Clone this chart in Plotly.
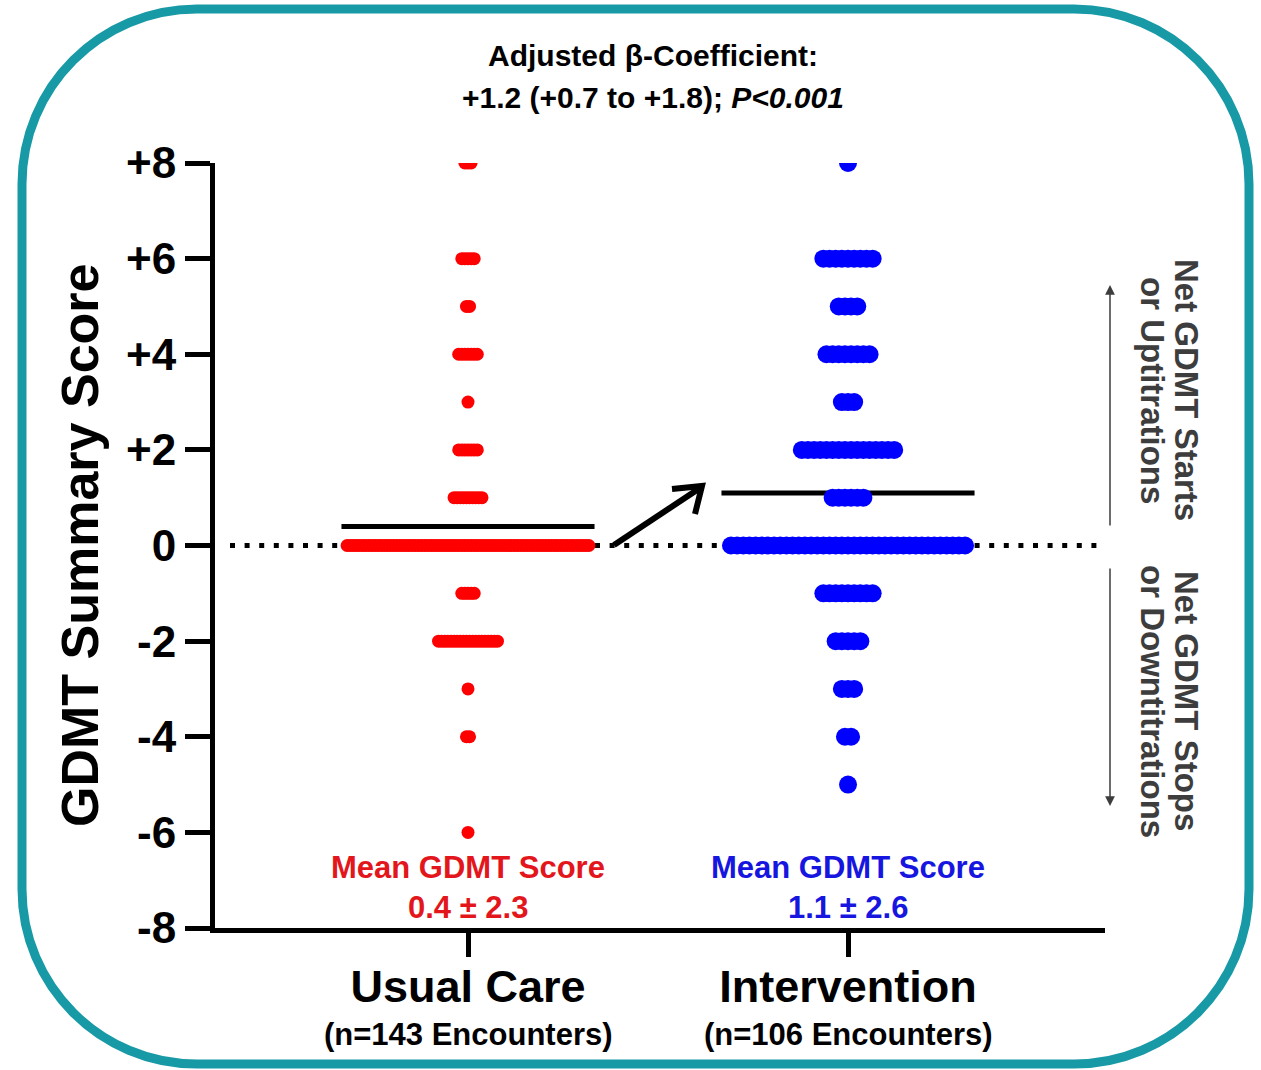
import plotly.graph_objects as go

# ---- data ----
groups = ["Usual Care", "Intervention"]
group_n = ["(n=143 Encounters)", "(n=106 Encounters)"]
scores = [8, 6, 5, 4, 3, 2, 1, 0, -1, -2, -3, -4, -5, -6]
usual_counts = [3, 5, 2, 7, 1, 7, 10, 79, 5, 20, 1, 2, 0, 1]
interv_counts = [1, 9, 4, 8, 3, 16, 6, 39, 9, 5, 3, 2, 1, 0]
group_means = [0.4, 1.1]
group_sds = [2.3, 2.6]
y_ticks = [8, 6, 4, 2, 0, -2, -4, -6, -8]
y_ticktext = ["+8", "+6", "+4", "+2", "0", "-2", "-4", "-6", "-8"]

# ---- geometry of the page ----
W, H = 1261, 1070
ML, MR, MT, MB = 215, 156, 163, 142
PW, PH = W - ML - MR, H - MT - MB
X_RANGE = [-0.6658, 1.6763]
PX_PER_X = PW / (X_RANGE[1] - X_RANGE[0])

FONT = "Liberation Sans, Arial, sans-serif"
RED = "#ff0000"
BLUE = "#0000ff"
RED_TXT = "#e3161c"
BLUE_TXT = "#1616e0"


def px(xp):
    return (xp - ML) / PW


def py(yp):
    return (H - MB - yp) / PH


def strip(center, counts, step_px):
    xs, ys = [], []
    step = step_px / PX_PER_X
    for s, c in zip(scores, counts):
        for i in range(c):
            xs.append(center + (i - (c - 1) / 2) * step)
            ys.append(s)
    return xs, ys


fig = go.Figure()

ux, uy = strip(0, usual_counts, 3.1)
ix, iy = strip(1, interv_counts, 6.16)
fig.add_trace(go.Scatter(x=ux, y=uy, mode="markers", marker=dict(size=13, color=RED, line=dict(width=0)),
                         name=groups[0], hoverinfo="skip"))
fig.add_trace(go.Scatter(x=ix, y=iy, mode="markers", marker=dict(size=18, color=BLUE, line=dict(width=0)),
                         name=groups[1], hoverinfo="skip"))

shapes = []
# dotted zero reference line
shapes.append(dict(type="line", xref="paper", yref="y", x0=px(230), x1=px(1100), y0=0, y1=0,
                   line=dict(color="black", width=5, dash="5px,9.6px"), layer="below"))
# group mean lines
for g, m in enumerate(group_means):
    shapes.append(dict(type="line", xref="x", yref="y", x0=g - 0.333, x1=g + 0.333, y0=m, y1=m,
                       line=dict(color="black", width=5), layer="below"))


# arrow between groups
def pth(points):
    return "M " + " L ".join(f"{px(a):.5f},{py(b):.5f}" for a, b in points)


shapes.append(dict(type="path", xref="paper", yref="paper", path=pth([(614, 545), (700, 488)]),
                   line=dict(color="black", width=6)))
shapes.append(dict(type="path", xref="paper", yref="paper",
                   path=pth([(672, 489), (702, 486), (695, 514)]),
                   line=dict(color="black", width=6)))

# rounded frame
x0, y0, x1, y1, R = 22, 9, 1249, 1064, 175
k = 0.5523 * R
frame = (
    f"M {px(x0 + R)},{py(y0)} L {px(x1 - R)},{py(y0)} "
    f"C {px(x1 - R + k)},{py(y0)} {px(x1)},{py(y0 + R - k)} {px(x1)},{py(y0 + R)} "
    f"L {px(x1)},{py(y1 - R)} "
    f"C {px(x1)},{py(y1 - R + k)} {px(x1 - R + k)},{py(y1)} {px(x1 - R)},{py(y1)} "
    f"L {px(x0 + R)},{py(y1)} "
    f"C {px(x0 + R - k)},{py(y1)} {px(x0)},{py(y1 - R + k)} {px(x0)},{py(y1 - R)} "
    f"L {px(x0)},{py(y0 + R)} "
    f"C {px(x0)},{py(y0 + R - k)} {px(x0 + R - k)},{py(y0)} {px(x0 + R)},{py(y0)} Z"
)
shapes.append(dict(type="path", xref="paper", yref="paper", path=frame,
                   line=dict(color="#1799a6", width=9), fillcolor="rgba(0,0,0,0)"))

ann = []


def text(t, xp, yp, size, color="black", angle=0, bold=True, xref="paper"):
    ann.append(dict(text=t, x=xp if xref != "paper" else px(xp), y=py(yp), xref=xref, yref="paper",
                    showarrow=False, textangle=angle, xanchor="center", yanchor="middle",
                    font=dict(family=FONT, size=size, color=color, weight="bold" if bold else "normal")))


text("Adjusted β-Coefficient:", 653, 55, 30)
text("+1.2 (+0.7 to +1.8); <i>P&lt;0.001</i>", 653, 97, 30)
text("GDMT Summary Score", 80, 545, 52, angle=-90)

# right-side direction notes
GREY = "#3d3d3d"
text("Net GDMT Starts", 1187, 390, 33, color=GREY, angle=90)
text("or Uptitrations", 1153, 390, 33, color=GREY, angle=90)
text("Net GDMT Stops", 1187, 701, 33, color=GREY, angle=90)
text("or Downtitrations", 1153, 701, 33, color=GREY, angle=90)
for tip, tail in [(285, 527), (806, 567)]:
    ann.append(dict(text="", x=px(1110), y=py(tip), xref="paper", yref="paper", showarrow=True,
                    ax=0, ay=tail - tip, axref="pixel", ayref="pixel", arrowhead=2, arrowsize=1.3,
                    arrowwidth=1.5, arrowcolor=GREY))

# group means and sample sizes
colors = [RED_TXT, BLUE_TXT]
for g in range(2):
    text("Mean GDMT Score", g, 867, 31, color=colors[g], xref="x")
    text(f"{group_means[g]} ± {group_sds[g]}", g, 907, 31, color=colors[g], xref="x")
    text(group_n[g], g, 1034, 31, xref="x")

fig.update_layout(
    width=W, height=H,
    margin=dict(l=ML, r=MR, t=MT, b=MB),
    plot_bgcolor="white", paper_bgcolor="white",
    showlegend=False,
    shapes=shapes, annotations=ann,
    xaxis=dict(range=X_RANGE, tickmode="array", tickvals=[0, 1], ticktext=groups,
               showgrid=False, zeroline=False, showline=True, linecolor="black", linewidth=5,
               ticks="outside", ticklen=24, tickwidth=5, tickcolor="black", ticklabelstandoff=-9,
               tickfont=dict(family=FONT, size=45, color="black", weight="bold")),
    yaxis=dict(range=[-8, 8], tickmode="array", tickvals=y_ticks, ticktext=y_ticktext,
               showgrid=False, zeroline=False, showline=True, linecolor="black", linewidth=5,
               ticks="outside", ticklen=25, tickwidth=5, tickcolor="black",
               tickfont=dict(family=FONT, size=44, color="black", weight="bold")),
)

fig.write_html("out.html", config={"displayModeBar": False})
